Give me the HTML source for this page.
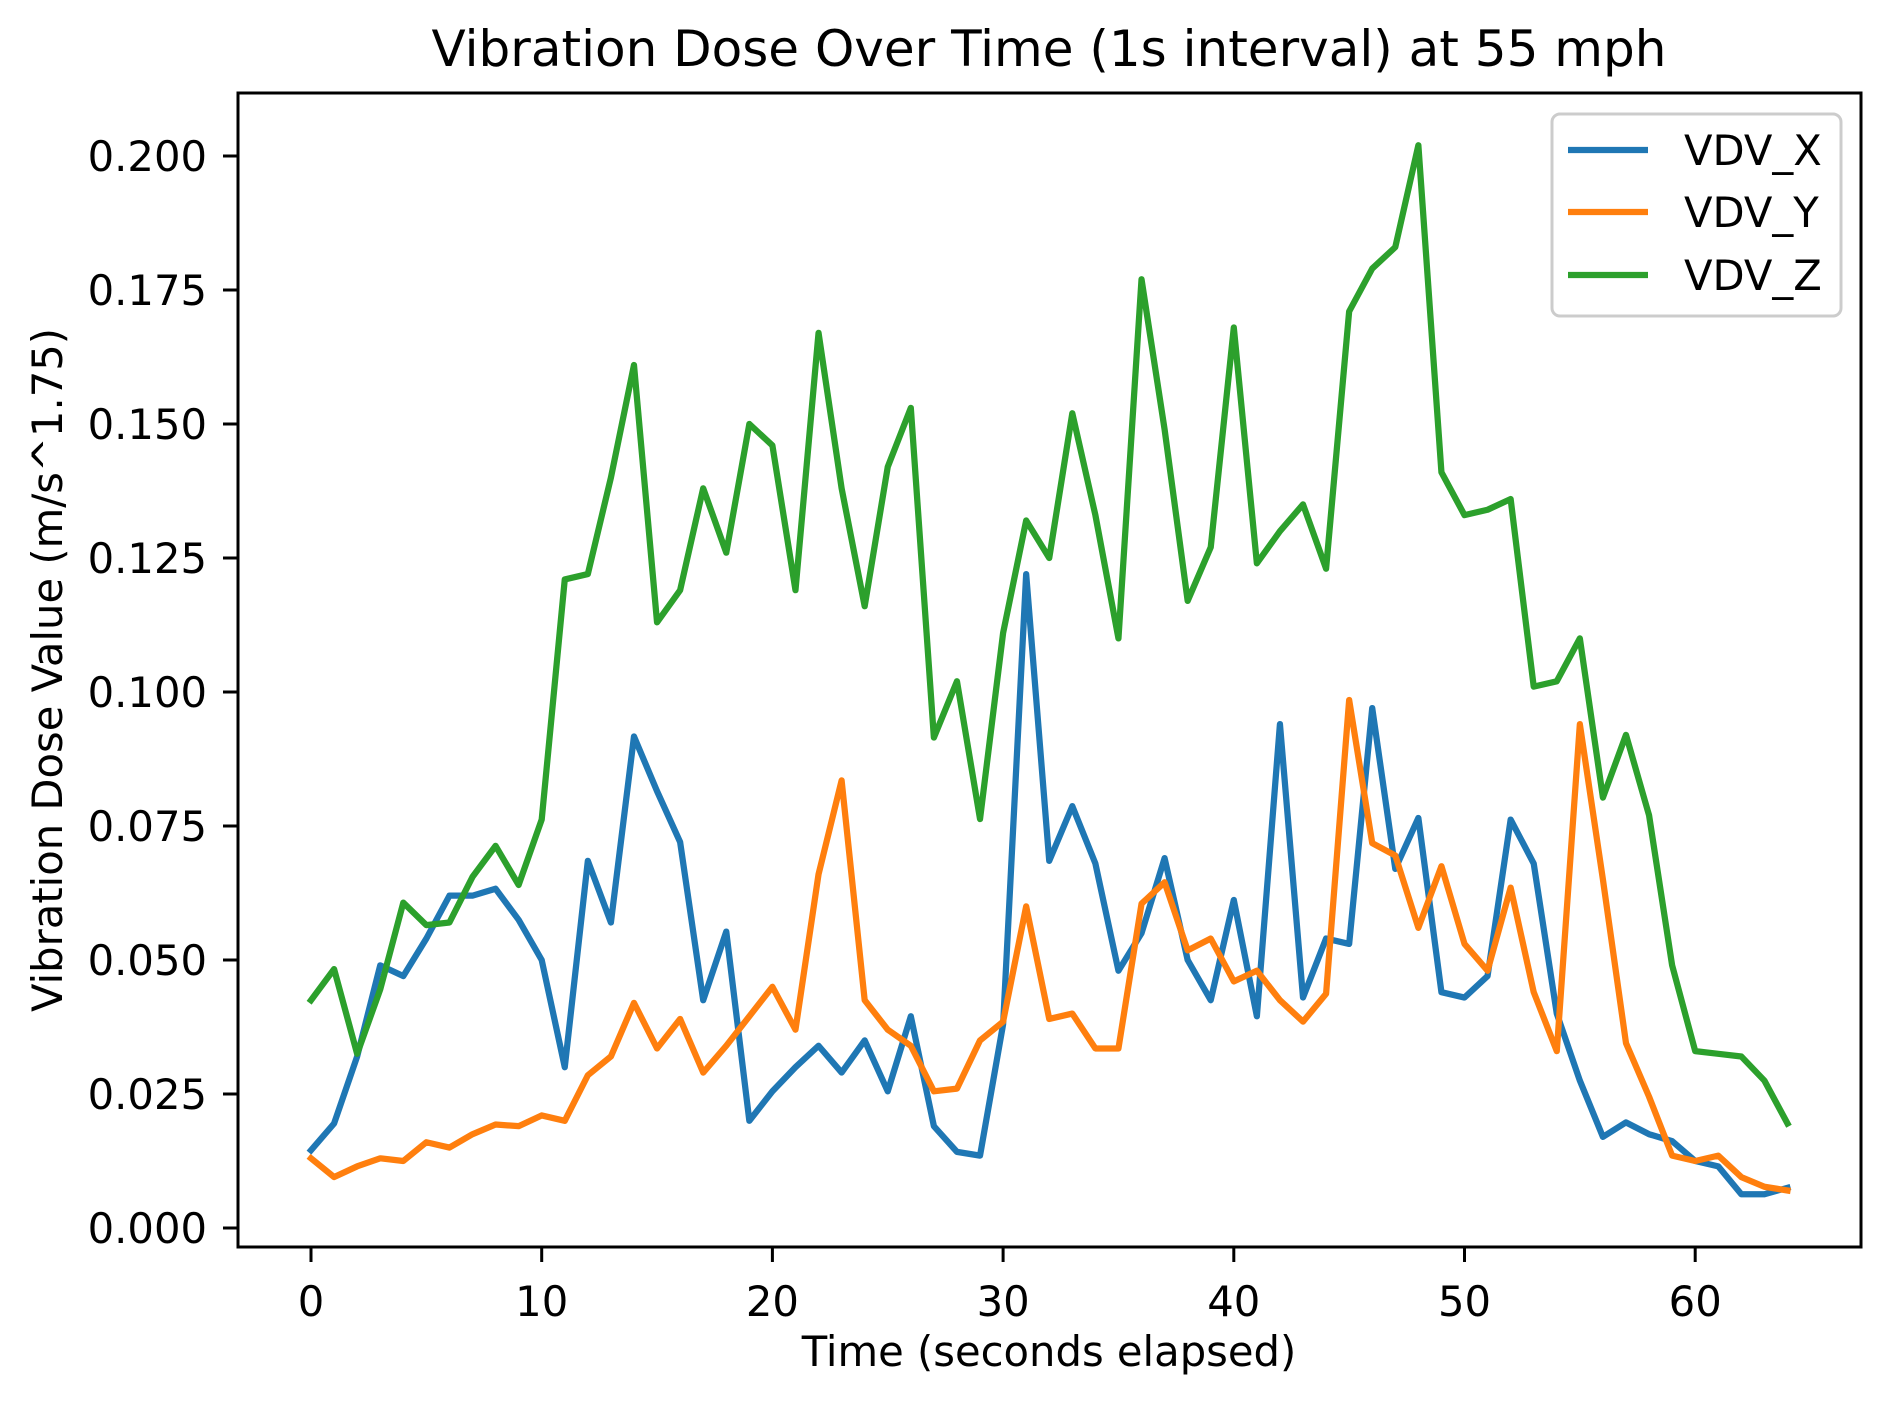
<!DOCTYPE html>
<html><head><meta charset="utf-8"><style>
html,body{margin:0;padding:0;background:#fff;}
svg text{font-family:"DejaVu Sans","Liberation Sans",sans-serif;fill:#000;}
</style></head><body>
<svg id="chart" width="1890" height="1406" viewBox="0 0 1890 1406" xmlns="http://www.w3.org/2000/svg">
<rect width="1890" height="1406" fill="#fff"/>
<text x="1049" y="66" font-size="50" text-anchor="middle">Vibration Dose Over Time (1s interval) at 55 mph</text>
<g id="plot"></g>
<rect x="238" y="93" width="1623" height="1154" fill="none" stroke="#000" stroke-width="3"/>
<g id="xticks"></g>
<g id="yticks"></g>
<text x="1049" y="1366" font-size="41.7" text-anchor="middle">Time (seconds elapsed)</text>
<text transform="translate(62,670) rotate(-90)" font-size="41.7" text-anchor="middle">Vibration Dose Value (m/s^1.75)</text>
<g transform="translate(-8,0)">
<rect x="1560" y="114" width="289" height="202" rx="8" fill="#fff" fill-opacity="0.8" stroke="#ccc" stroke-width="3"/>
<line x1="1576" y1="150" x2="1656" y2="150" stroke="#1f77b4" stroke-width="6.25"/>
<text x="1692" y="165" font-size="41.7">VDV_X</text>
<line x1="1576" y1="212" x2="1656" y2="212" stroke="#ff7f0e" stroke-width="6.25"/>
<text x="1692" y="227" font-size="41.7">VDV_Y</text>
<line x1="1576" y1="275" x2="1656" y2="275" stroke="#2ca02c" stroke-width="6.25"/>
<text x="1692" y="290" font-size="41.7">VDV_Z</text>
</g>
</svg>
<script>
const times = Array.from({length:65},(_, i)=>i);
const vdvX = [0.0145,0.0195,0.032,0.049,0.047,0.054,0.062,0.062,0.0633,0.0575,0.050,0.030,0.0685,0.057,0.0917,0.0815,0.072,0.0425,0.0553,0.020,0.0255,0.030,0.034,0.029,0.035,0.0255,0.0395,0.019,0.0142,0.0135,0.038,0.122,0.0685,0.0787,0.068,0.048,0.055,0.069,0.050,0.0425,0.0612,0.0395,0.094,0.043,0.054,0.053,0.097,0.067,0.0765,0.044,0.043,0.047,0.0762,0.068,0.040,0.0275,0.017,0.0197,0.0175,0.0162,0.0125,0.0115,0.0063,0.0063,0.0075];
const vdvY = [0.013,0.0095,0.0115,0.013,0.0125,0.016,0.015,0.0175,0.0193,0.019,0.021,0.020,0.0285,0.032,0.042,0.0335,0.039,0.029,0.034,0.0395,0.045,0.037,0.066,0.0835,0.0425,0.037,0.034,0.0255,0.026,0.035,0.0385,0.060,0.039,0.040,0.0335,0.0335,0.0605,0.0645,0.0518,0.054,0.046,0.048,0.0425,0.0385,0.0437,0.0985,0.0718,0.0695,0.056,0.0675,0.053,0.048,0.0635,0.044,0.033,0.094,0.065,0.0345,0.0245,0.0135,0.0125,0.0135,0.0095,0.0077,0.007];
const vdvZ = [0.0425,0.0483,0.0325,0.0445,0.0607,0.0565,0.057,0.0655,0.0713,0.064,0.0762,0.121,0.122,0.140,0.161,0.113,0.119,0.138,0.126,0.150,0.146,0.119,0.167,0.138,0.116,0.142,0.153,0.0915,0.102,0.0763,0.111,0.132,0.125,0.152,0.133,0.110,0.177,0.149,0.117,0.127,0.168,0.124,0.130,0.135,0.123,0.171,0.179,0.183,0.202,0.141,0.133,0.134,0.136,0.101,0.102,0.110,0.0803,0.092,0.077,0.049,0.033,0.0325,0.032,0.0275,0.0195];
const xTicks = [0,10,20,30,40,50,60];
const yTicks = [0,0.025,0.05,0.075,0.1,0.125,0.15,0.175,0.2];
const yTickLabels = ["0.000","0.025","0.050","0.075","0.100","0.125","0.150","0.175","0.200"];

const NS="http://www.w3.org/2000/svg";
function xS(v){return 311 + v*23.07;}
function yS(v){return 1228 - v*5360;}
const plot=document.getElementById('plot');
function series(data,color,name){
  const p=document.createElementNS(NS,'polyline');
  p.setAttribute('points',data.map((v,i)=>xS(times[i])+','+yS(v)).join(' '));
  p.setAttribute('fill','none');p.setAttribute('stroke',color);
  p.setAttribute('stroke-width','6.25');p.setAttribute('stroke-linejoin','round');p.setAttribute('stroke-linecap','square');
  
  
  plot.appendChild(p);
}
series(vdvX,'#1f77b4','series-vdv-x');
series(vdvY,'#ff7f0e','series-vdv-y');
series(vdvZ,'#2ca02c','series-vdv-z');
const xg=document.getElementById('xticks');
xTicks.forEach(t=>{
  const l=document.createElementNS(NS,'line');
  l.setAttribute('x1',xS(t));l.setAttribute('x2',xS(t));l.setAttribute('y1',1247);l.setAttribute('y2',1262);
  l.setAttribute('stroke','#000');l.setAttribute('stroke-width','3');
  
  
  xg.appendChild(l);
  const tx=document.createElementNS(NS,'text');
  tx.setAttribute('x',xS(t));tx.setAttribute('y',1316);tx.setAttribute('font-size','41.7');tx.setAttribute('text-anchor','middle');
  tx.textContent=String(t);
  
  
  xg.appendChild(tx);
});
const yg=document.getElementById('yticks');
yTicks.forEach((t,i)=>{
  const l=document.createElementNS(NS,'line');
  l.setAttribute('x1',223);l.setAttribute('x2',238);l.setAttribute('y1',yS(t));l.setAttribute('y2',yS(t));
  l.setAttribute('stroke','#000');l.setAttribute('stroke-width','3');
  
  
  yg.appendChild(l);
  const tx=document.createElementNS(NS,'text');
  tx.setAttribute('x',207);tx.setAttribute('y',yS(t)+15);tx.setAttribute('font-size','41.7');tx.setAttribute('text-anchor','end');
  tx.textContent=yTickLabels[i];
  
  
  yg.appendChild(tx);
});
</script>
</body></html>
